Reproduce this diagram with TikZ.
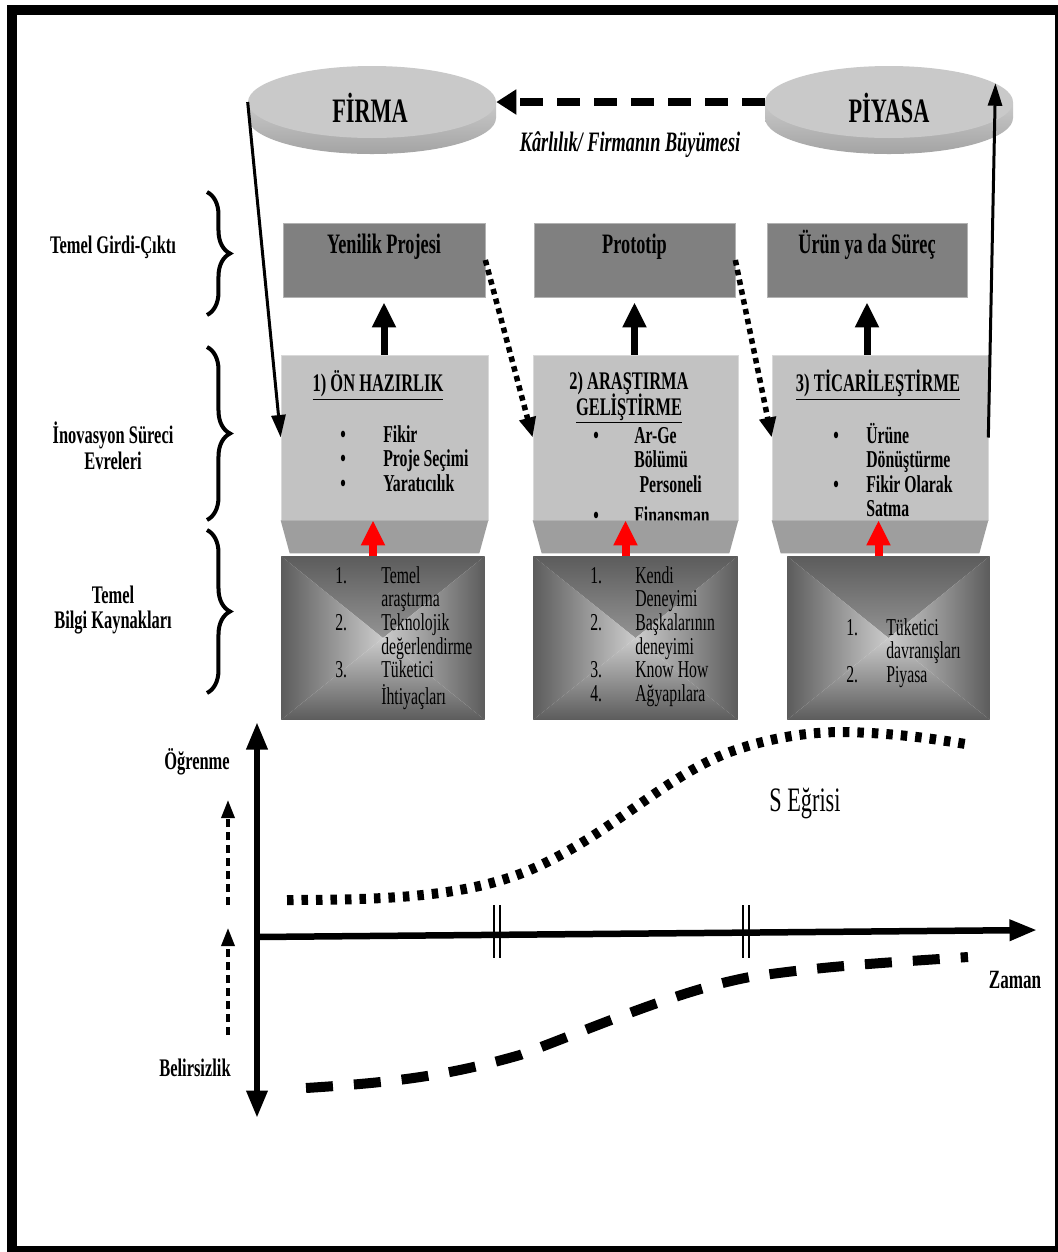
\documentclass[tikz,border=0pt]{standalone}
\usepackage{fontspec}
\setmainfont{Liberation Serif}[FakeStretch=0.65]
\usepackage{tikz}
\usetikzlibrary{positioning, arrows.meta, shapes, decorations.pathreplacing}

\definecolor{kutugri}{gray}{0.50}
\definecolor{evregri}{gray}{0.76}
\definecolor{tabangri}{gray}{0.62}
\definecolor{silindirgri}{gray}{0.79}
\definecolor{yangri}{gray}{0.64}
\definecolor{kenargri}{gray}{0.36}
\definecolor{ortagri}{gray}{0.80}

\tikzset{
    silindir/.style={ellipse, fill=silindirgri, minimum width=4.96cm, minimum height=1.44cm, inner sep=0pt},
    ustkutu/.style={rectangle, fill=kutugri, draw=black!30, inner sep=0pt, text height=0.6cm, text depth=0.88cm, font=\fontsize{16}{18}\selectfont\bfseries},
    evre/.style={rectangle, fill=evregri, draw=black!15, minimum height=3.3cm, inner sep=0pt},
    bilgi/.style={rectangle, minimum height=3.28cm, inner sep=0pt, path picture={
        \shade[top color=kenargri, bottom color=ortagri] (path picture bounding box.north west) -- (path picture bounding box.north east) -- (path picture bounding box.center) -- cycle;
        \shade[top color=ortagri, bottom color=kenargri] (path picture bounding box.south west) -- (path picture bounding box.south east) -- (path picture bounding box.center) -- cycle;
        \shade[left color=kenargri, right color=ortagri] (path picture bounding box.north west) -- (path picture bounding box.south west) -- (path picture bounding box.center) -- cycle;
        \shade[left color=ortagri, right color=kenargri] (path picture bounding box.north east) -- (path picture bounding box.south east) -- (path picture bounding box.center) -- cycle;
    }},
    baslik/.style={font=\fontsize{14.4}{14}\selectfont\bfseries, inner sep=0pt, anchor=base},
    madde/.style={font=\fontsize{13.8}{14}\selectfont\bfseries, inner sep=0pt, anchor=base west},
    liste/.style={font=\fontsize{13.8}{13.3}\selectfont, inner sep=0pt, anchor=base west},
    etiket/.style={font=\fontsize{14.4}{14.7}\selectfont\bfseries, align=center, inner sep=0pt},
    ok/.style={line width=0.06cm, -{Triangle[length=0.45cm, width=0.28cm]}},
    kesikok/.style={line width=0.16cm, dash pattern=on 0.46cm off 0.28cm, -{Triangle[length=0.4cm, width=0.48cm]}},
    yukari/.style={line width=0.14cm, -{Triangle[length=0.5cm, width=0.45cm]}, shorten >=0.1cm},
    kirmizi/.style={red, line width=0.16cm, -{Triangle[length=0.5cm, width=0.45cm]}},
    noktaliok/.style={line width=0.11cm, dash pattern=on 0.11cm off 0.09cm, -{Triangle[length=0.4cm, width=0.32cm]}},
    kume/.style={line width=0.08cm, decorate, decoration={brace, amplitude=0.46cm}},
    eksen/.style={line width=0.13cm},
    kucukok/.style={line width=0.07cm, dash pattern=on 0.16cm off 0.1cm, -{Triangle[length=0.36cm, width=0.26cm]}},
    noktaegri/.style={line width=0.2cm, dash pattern=on 0.13cm off 0.16cm},
    kesikegri/.style={line width=0.2cm, dash pattern=on 0.54cm off 0.42cm},
}

\begin{document}
\begin{tikzpicture}[x=0.02cm, y=-0.02cm]
    \path[fill=white, use as bounding box] (0,0) rectangle (1058,1252);
    \draw[line width=0.2cm] (12,10) rectangle (1060,1251);

    % firma ve piyasa
    \foreach \cx in {372,889} {
        \shade[top color=silindirgri, bottom color=yangri] (\cx-124,102) -- (\cx-124,118) arc[start angle=180, end angle=0, x radius=124, y radius=36] -- (\cx+124,102) -- cycle;
    }
    \node[silindir] (firma) at (372,102) {};
    \node[silindir] (piyasa) at (889,102) {};
    \node[font=\fontsize{19.5}{21}\selectfont\bfseries] (firmayazi) at (370,108) {FİRMA};
    \node[font=\fontsize{19.5}{21}\selectfont\bfseries] (piyasayazi) at (889,108) {PİYASA};
    \draw[kesikok] (piyasa.west) -- (firma.east);
    \node[font=\fontsize{16}{18}\selectfont\bfseries\itshape] (karlilik) at (630,145) {Kârlılık/ Firmanın Büyümesi};

    % sol etiketler
    \node[etiket] (girdi) at (113,247) {Temel Girdi-Çıktı};
    \node[etiket] (evreler) at (113,446) {İnovasyon Süreci\\Evreleri};
    \node[etiket] (kaynaklar) at (113,610) {Temel\\Bilgi Kaynakları};
    \draw[kume] (207,192) -- (207,315);
    \draw[kume] (207,347) -- (207,520);
    \draw[kume] (207,530) -- (207,693);

    % girdi-cikti kutulari
    \node[ustkutu, minimum width=4.04cm] (yenilik) at (384,260) {Yenilik Projesi};
    \node[ustkutu, minimum width=4.02cm] (prototip) at (634.5,260) {Prototip};
    \node[ustkutu, minimum width=4.0cm] (urun) at (867,260) {Ürün ya da Süreç};

    % evreler
    \node[evre, minimum width=4.14cm] (onhaz) at (384.5,437.5) {};
    \node[evre, minimum width=4.10cm] (arge) at (635.5,437.5) {};
    \node[evre, minimum width=4.32cm] (ticari) at (880,437.5) {};

    \node[baslik] (onhazbaslik) at (378,391) {\underline{1) ÖN HAZIRLIK}};
    \node[baslik] (argebaslik) at (629,389) {2) ARAŞTIRMA};
    \node[baslik] (argebaslik2) at (629,415) {\underline{GELİŞTİRME}};
    \node[baslik] (ticaribaslik) at (878,391) {\underline{3) TİCARİLEŞTİRME}};

    \node[madde] (onhazmadde) at (340,442) {\begin{tabular}[t]{@{}p{0.86cm}@{}l@{}}
        \textbullet & Fikir\\ \textbullet & Proje Seçimi\\ \textbullet & Yaratıcılık\end{tabular}};
    \node[madde] (argemadde) at (593,443) {\begin{tabular}[t]{@{}p{0.82cm}@{}l@{}}
        \textbullet & Ar-Ge\\ & Bölümü\\ & \hspace{3pt}Personeli\\[4pt] \textbullet & Finansman\end{tabular}};
    \node[madde] (ticarimadde) at (833,443) {\begin{tabular}[t]{@{}p{0.66cm}@{}l@{}}
        \textbullet & Ürüne\\ & Dönüştürme\\ \textbullet & Fikir Olarak\\ & Satma\end{tabular}};

    \foreach \e in {onhaz, arge, ticari} {
        \fill[tabangri] (\e.south west) -- (\e.south east) -- ([shift={(-9,33)}]\e.south east) -- ([shift={(9,33)}]\e.south west) -- cycle;
    }

    % bilgi kaynaklari
    \node[bilgi, minimum width=4.08cm] (bilgi1) at (383,638) {};
    \node[bilgi, minimum width=4.10cm] (bilgi2) at (635.5,638) {};
    \node[bilgi, minimum width=4.06cm] (bilgi3) at (888.5,638) {};

    \node[liste] (bilgi1liste) at (335,583) {\begin{tabular}[t]{@{}p{0.92cm}@{}l@{}}
        1. & Temel\\ & araştırma\\ 2. & Teknolojik\\ & değerlendirme\\ 3. & Tüketici\\ & İhtiyaçları\end{tabular}};
    \node[liste] (bilgi2liste) at (590,583) {\begin{tabular}[t]{@{}p{0.9cm}@{}l@{}}
        1. & Kendi\\ & Deneyimi\\ 2. & Başkalarının\\ & deneyimi\\ 3. & Know How\\ 4. & Ağyapılara\end{tabular}};
    \node[liste] (bilgi3liste) at (846,635) {\begin{tabular}[t]{@{}p{0.8cm}@{}l@{}}
        1. & Tüketici\\ & davranışları\\ 2. & Piyasa\end{tabular}};

    % oklar
    \draw[ok] (firma.west) -- (onhaz.west);
    \draw[ok] (ticari.east) -- (piyasa.10);
    \draw[yukari] (onhaz.north -| yenilik.south) -- (yenilik.south);
    \draw[yukari] (arge.north -| prototip.south) -- (prototip.south);
    \draw[yukari] (ticari.north -| urun.south) -- (urun.south);
    \draw[noktaliok] (yenilik.east) -- (arge.west);
    \draw[noktaliok] (prototip.east) -- (ticari.west);
    \draw[kirmizi] ([xshift=-0.2cm]bilgi1.north) -- ([xshift=-0.2cm]bilgi1.north |- onhaz.south);
    \draw[kirmizi] ([xshift=-0.2cm]bilgi2.north) -- ([xshift=-0.2cm]bilgi2.north |- arge.south);
    \draw[kirmizi] ([xshift=-0.2cm]bilgi3.north) -- ([xshift=-0.2cm]bilgi3.north |- ticari.south);

    % s egrisi
    \coordinate (ust) at (257,722);
    \coordinate (alt) at (257,1118);
    \coordinate (orijin) at (257,937);
    \coordinate (sag) at (1037,930);
    \draw[eksen, {Triangle[length=0.55cm, width=0.4cm]}-{Triangle[length=0.55cm, width=0.4cm]}] (alt) -- (ust);
    \draw[eksen, -{Triangle[length=0.55cm, width=0.4cm]}] (orijin) -- (sag);
    \foreach \tx in {494,743} {
        \draw[line width=0.04cm] (\tx,905) -- (\tx,958);
        \draw[line width=0.04cm] (\tx+6,905) -- (\tx+6,958);
    }
    \draw[noktaegri] (287,900) .. controls (400,900) and (470,895) .. (530,870) .. controls (610,835) and (660,780) .. (727,753) .. controls (770,737) and (810,732) .. (843,732) .. controls (900,733) and (940,740) .. (972,745);
    \draw[kesikegri] (306,1088) .. controls (400,1082) and (450,1075) .. (520,1055) .. controls (600,1025) and (680,990) .. (750,977) .. controls (830,965) and (900,962) .. (968,957);

    \coordinate (ogrenmealt) at (228,905);
    \coordinate (ogrenmeust) at (228,800);
    \coordinate (belirsizalt) at (228,1035);
    \coordinate (belirsizust) at (228,928);
    \draw[kucukok] (ogrenmealt) -- (ogrenmeust);
    \draw[kucukok] (belirsizalt) -- (belirsizust);

    \node[font=\fontsize{14.4}{16}\selectfont\bfseries] (ogrenme) at (197,762) {Öğrenme};
    \node[font=\fontsize{14.4}{16}\selectfont\bfseries] (belirsizlik) at (195,1068) {Belirsizlik};
    \node[font=\fontsize{15}{17}\selectfont\bfseries] (zaman) at (1015,980) {Zaman};
    \node[font=\fontsize{19.5}{21}\selectfont] (segrisi) at (805,803) {S Eğrisi};
\end{tikzpicture}
\end{document}
